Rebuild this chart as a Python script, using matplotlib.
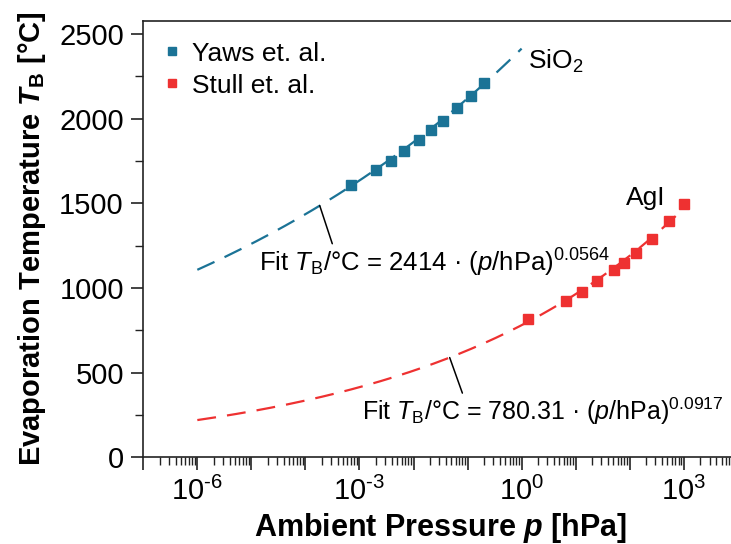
import numpy as np
import matplotlib
matplotlib.use("Agg")
import matplotlib.pyplot as plt
from matplotlib.ticker import FixedLocator, FuncFormatter, LogLocator, MultipleLocator

plt.rcParams['font.family'] = ['Liberation Sans', 'DejaVu Sans']
plt.rcParams['mathtext.fontset'] = 'custom'
plt.rcParams['mathtext.rm'] = 'Liberation Sans'
plt.rcParams['mathtext.it'] = 'Liberation Sans:italic'
plt.rcParams['mathtext.bf'] = 'Liberation Sans:bold'
plt.rcParams['mathtext.bfit'] = 'Liberation Sans:bold:italic'

# SiO2 boiling points (Yaws et al.), pressure as log10(p / hPa)
yaws_log_p = [-3.16, -2.69, -2.42, -2.18, -1.89, -1.67, -1.46, -1.20, -0.94, -0.69]
yaws_T = [1609, 1696, 1749, 1810, 1873, 1932, 1986, 2062, 2133, 2210]

# AgI boiling points (Stull et al.)
stull_log_p = [0.12, 0.82, 1.12, 1.40, 1.71, 1.89, 2.12, 2.41, 2.72, 3.00]
stull_T = [816, 922, 975, 1042, 1107, 1150, 1206, 1288, 1395, 1495]

# power-law fits T = a * p^b
sio2_fit = (2414, 0.0564)
agi_fit = (780.31, 0.0917)

blue = '#1b7396'
red = '#ee3131'

fig = plt.figure(figsize=(7.31, 5.44), dpi=100)
ax = fig.add_axes([0.196, 0.1594, 0.8133, 0.8029])

p_sio2 = np.logspace(-6, 0, 200)
p_agi = np.logspace(-6, 3, 200)
ax.plot(p_sio2, sio2_fit[0] * p_sio2 ** sio2_fit[1], color=blue, lw=1.6,
        dashes=(8.5, 5))
ax.plot(p_agi, agi_fit[0] * p_agi ** agi_fit[1], color=red, lw=1.6,
        dashes=(8.5, 5))

ax.plot(10.0 ** np.array(yaws_log_p), yaws_T, 's', color=blue, ms=6.5,
        ls='none', label='Yaws et. al.')
ax.plot(10.0 ** np.array(stull_log_p), stull_T, 's', color=red, ms=6.5,
        ls='none', label='Stull et. al.')

ax.set_xscale('log')
ax.set_xlim(1e-7, 1e4)
ax.set_ylim(0, 2580)

# every decade gets a major tick, only every third one a label
ax.xaxis.set_major_locator(FixedLocator([10.0 ** k for k in range(-7, 5)]))
ax.xaxis.set_minor_locator(LogLocator(base=10, subs=np.arange(2, 10), numticks=30))


def decade_label(x, pos):
    k = int(round(np.log10(x)))
    return r'$10^{\text{%d}}$' % k if k % 3 == 0 else ''


ax.xaxis.set_major_formatter(FuncFormatter(decade_label))
ax.xaxis.set_minor_formatter(FuncFormatter(lambda x, pos: ''))
ax.yaxis.set_major_locator(MultipleLocator(500))
ax.yaxis.set_minor_locator(MultipleLocator(250))

ax.tick_params(which='major', direction='out', length=9, width=1.2,
               labelsize=21, colors='#222222', labelcolor='black')
ax.tick_params(which='minor', direction='out', length=6, width=1.0,
               colors='#222222')
ax.tick_params(axis='x', which='major', pad=5)
ax.tick_params(axis='y', which='major', pad=5)
for s in ax.spines.values():
    s.set_linewidth(1.2)
    s.set_color('#222222')

ax.set_xlabel(r'Ambient Pressure $\mathbfit{p}$ [hPa]', fontsize=22,
              fontweight='bold', labelpad=4)
ax.set_ylabel(r'Evaporation Temperature $\mathbfit{T}_{\mathbf{B}}$ [°C]',
              fontsize=21, fontweight='bold', labelpad=8)

ax.legend(loc='upper left', frameon=False, fontsize=19, handlelength=0.6,
          handletextpad=0.45, borderaxespad=0.3, borderpad=0.5,
          labelspacing=0.3, markerscale=0.9)

ax.text(10 ** 0.11, 2336, r'SiO$_2$', fontsize=19, va='center')
ax.text(10 ** 2.66, 1532, 'AgI', fontsize=19, ha='right', va='center')

ax.annotate(r'Fit $T_{\mathrm{B}}$/°C = 2414 · ($p$/hPa)$^{0.0564}$',
            xy=(10 ** -3.735, sio2_fit[0] * 10 ** (-3.735 * sio2_fit[1])),
            xytext=(10 ** -4.85, 1150), fontsize=18.5, va='center',
            arrowprops=dict(arrowstyle='-', color='black', lw=1.1,
                            shrinkA=0, shrinkB=0,
                            relpos=(0.21, 1.0)))
ax.annotate(r'Fit $T_{\mathrm{B}}$/°C = 780.31 · ($p$/hPa)$^{0.0917}$',
            xy=(10 ** -1.331, agi_fit[0] * 10 ** (-1.331 * agi_fit[1])),
            xytext=(10 ** -2.95, 270), fontsize=18, va='center',
            arrowprops=dict(arrowstyle='-', color='black', lw=1.1,
                            shrinkA=0, shrinkB=0,
                            relpos=(0.28, 1.0)))

fig.savefig('out.png', dpi=100)
